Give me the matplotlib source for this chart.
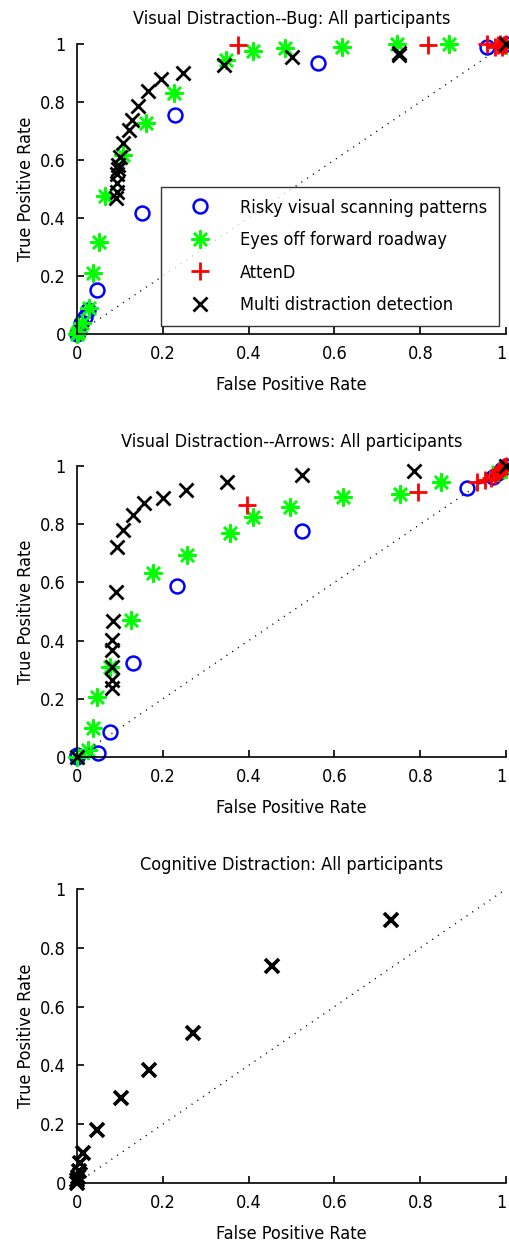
import matplotlib
matplotlib.use("Agg")
import matplotlib.pyplot as plt

plt.rcParams['font.family'] = ['DejaVu Sans']
plt.rcParams['font.stretch'] = 'condensed'

# ROC points, visual distraction (bug task)
bug_risky_fpr = [0.0, 0.003, 0.01, 0.019, 0.025, 0.047, 0.151, 0.228, 0.562, 0.955, 1.0]
bug_risky_tpr = [0.0, 0.008, 0.037, 0.06, 0.083, 0.15, 0.416, 0.755, 0.933, 0.99, 1.0]
bug_eyes_fpr = [0.0, 0.003, 0.011, 0.028, 0.038, 0.051, 0.066, 0.108, 0.160, 0.225, 0.347,
                0.411, 0.485, 0.617, 0.745, 0.866, 1.0]
bug_eyes_tpr = [0.0, 0.008, 0.037, 0.089, 0.209, 0.318, 0.476, 0.617, 0.727, 0.83, 0.945,
                0.974, 0.985, 0.99, 1.0, 1.0, 0.997]
bug_attend_fpr = [0.376, 0.817, 0.955, 0.975, 0.98, 0.985, 0.99, 0.995, 1.0]
bug_attend_tpr = [0.997, 0.997, 1.0, 0.99, 0.995, 1.0, 0.99, 0.995, 1.0]
bug_multi_fpr = [0.092, 0.093, 0.093, 0.094, 0.095, 0.096, 0.100, 0.108, 0.120, 0.127,
                 0.141, 0.165, 0.196, 0.246, 0.343, 0.502, 0.751, 0.751, 1.0]
bug_multi_tpr = [0.47, 0.49, 0.52, 0.55, 0.57, 0.583, 0.611, 0.657, 0.703, 0.736,
                 0.786, 0.839, 0.878, 0.899, 0.928, 0.956, 0.96, 0.97, 1.0]

# ROC points, visual distraction (arrows task)
arr_risky_fpr = [0.0, 0.0, 0.048, 0.077, 0.130, 0.232, 0.525, 0.908, 0.970, 0.98, 0.99, 1.0]
arr_risky_tpr = [0.0, 0.007, 0.013, 0.087, 0.322, 0.589, 0.775, 0.923, 0.963, 0.975, 0.99, 1.0]
arr_eyes_fpr = [0.0, 0.026, 0.038, 0.046, 0.077, 0.126, 0.178, 0.257, 0.357, 0.409, 0.497,
                0.621, 0.753, 0.848, 0.98, 1.0]
arr_eyes_tpr = [0.0, 0.024, 0.099, 0.207, 0.310, 0.471, 0.631, 0.694, 0.769, 0.826, 0.860,
                0.894, 0.905, 0.944, 0.98, 0.99]
arr_attend_fpr = [0.397, 0.794, 0.932, 0.951, 0.965, 0.975, 0.98, 0.985, 0.99, 0.995, 1.0]
arr_attend_tpr = [0.866, 0.909, 0.944, 0.952, 0.96, 0.97, 0.98, 0.985, 0.99, 0.995, 1.0]
arr_multi_fpr = [0.0, 0.081, 0.081, 0.081, 0.081, 0.081, 0.085, 0.090, 0.094, 0.108, 0.131,
                 0.155, 0.201, 0.253, 0.349, 0.525, 0.786, 1.0]
arr_multi_tpr = [0.0, 0.236, 0.265, 0.310, 0.368, 0.402, 0.468, 0.568, 0.723, 0.780, 0.832,
                 0.872, 0.889, 0.918, 0.944, 0.969, 0.984, 1.0]

# ROC points, cognitive distraction
cog_multi_fpr = [0.0, 0.0, 0.003, 0.005, 0.007, 0.015, 0.046, 0.103, 0.168, 0.271, 0.454, 0.731]
cog_multi_tpr = [0.0, 0.01, 0.02, 0.04, 0.068, 0.101, 0.180, 0.288, 0.384, 0.509, 0.739, 0.895]

legend_names = ['Risky visual scanning patterns', 'Eyes off forward roadway', 'AttenD',
                'Multi distraction detection']
tick_vals = [0, 0.2, 0.4, 0.6, 0.8, 1]
tick_text = ['0', '0.2', '0.4', '0.6', '0.8', '1']

star = (8, 2, 0)
styles = [dict(marker='o', mfc='none', mec='blue', ms=10, mew=1.8),
          dict(marker=star, color='#00ff00', ms=13, mew=1.8),
          dict(marker='+', color='red', ms=13, mew=2.0),
          dict(marker='x', color='black', ms=10, mew=2.0)]

FS = 13


def style_axes(ax, title):
    ax.plot([0, 1], [0, 1], color='black', lw=1.0, linestyle=(0, (0.8, 4.2)))
    ax.set_xlim(0, 1)
    ax.set_ylim(0, 1)
    ax.set_xticks(tick_vals)
    ax.set_yticks(tick_vals)
    ax.set_xticklabels(tick_text)
    ax.set_yticklabels(tick_text)
    # keep the last x label inside the figure edge
    ax.get_xticklabels()[-1].set_horizontalalignment('right')
    ax.spines['top'].set_visible(False)
    ax.spines['right'].set_visible(False)
    for s in ('left', 'bottom'):
        ax.spines[s].set_linewidth(1.2)
    ax.tick_params(direction='in', length=5, width=1.2, labelsize=FS, pad=8)
    ax.set_xlabel('False Positive Rate', fontsize=FS, labelpad=9)
    ax.set_ylabel('True Positive Rate', fontsize=FS, labelpad=4)
    ax.set_title(title, fontsize=FS, pad=14)


fig = plt.figure(figsize=(5.09, 12.47), dpi=100)
ax1 = fig.add_axes([0.1513, 0.7322, 0.843, 0.2326])
ax2 = fig.add_axes([0.1513, 0.3929, 0.843, 0.2334])
ax3 = fig.add_axes([0.1513, 0.0513, 0.843, 0.2358])

bug = [(bug_risky_fpr, bug_risky_tpr), (bug_eyes_fpr, bug_eyes_tpr),
       (bug_attend_fpr, bug_attend_tpr), (bug_multi_fpr, bug_multi_tpr)]
handles = []
for (fx, ty), st, name in zip(bug, styles, legend_names):
    h, = ax1.plot(fx, ty, linestyle='none', clip_on=False, label=name, **st)
    handles.append(h)
style_axes(ax1, 'Visual Distraction--Bug: All participants')
leg = ax1.legend(handles=handles, loc='lower right', bbox_to_anchor=(0.984, 0.028),
                 fontsize=FS, frameon=True, fancybox=False, edgecolor='black',
                 borderpad=0.65, labelspacing=0.8, handletextpad=0.75, handlelength=3.0,
                 borderaxespad=0)
leg.get_frame().set_linewidth(1.0)

arrows = [(arr_risky_fpr, arr_risky_tpr), (arr_eyes_fpr, arr_eyes_tpr),
          (arr_attend_fpr, arr_attend_tpr), (arr_multi_fpr, arr_multi_tpr)]
for (fx, ty), st in zip(arrows, styles):
    ax2.plot(fx, ty, linestyle='none', clip_on=False, **st)
style_axes(ax2, 'Visual Distraction--Arrows: All participants')

ax3.plot(cog_multi_fpr, cog_multi_tpr, linestyle='none', clip_on=False,
         **dict(styles[3], mew=2.6))
style_axes(ax3, 'Cognitive Distraction: All participants')

fig.savefig('out.png', dpi=100)
